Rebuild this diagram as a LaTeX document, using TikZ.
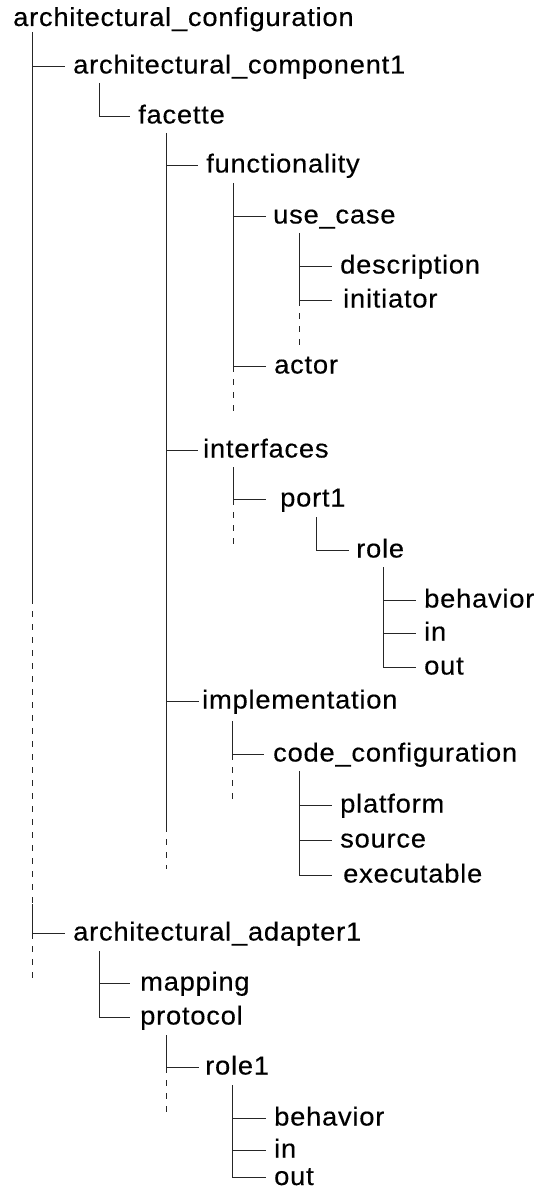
\documentclass[tikz,border=0pt]{standalone}
\usepackage{fontspec}
\newfontfamily\treefont{Liberation Sans}[FakeStretch=1.05,LetterSpace=3,FakeBold=0.35]
\newcommand\branchend[2]{\coordinate (#1-e) at ([xshift=-#2pt,yshift=7.5pt]#1.base west);}
\begin{document}
\begin{tikzpicture}[x=1pt,y=-1pt,
  lbl/.style={anchor=base west, inner sep=0pt, font=\treefont\fontsize{26}{30}\selectfont},
  edge/.style={line width=0.85pt, draw=black!85},
  gapline/.style={edge, dash pattern=on 6pt off 7pt}]
\useasboundingbox (0,0) rectangle (542,1190);

% labels
\node[lbl] (root)    at (13,26)      {architectural\_configuration};
\node[lbl] (comp1)   at (73,73.5)    {architectural\_component1};
\node[lbl] (facette) at (138,123.5)  {facette};
\node[lbl] (func)    at (206,172.5)  {functionality};
\node[lbl] (usecase) at (273,223.5)  {use\_case};
\node[lbl] (desc)    at (340,273.5)  {description};
\node[lbl] (init)    at (343,307.5)  {initiator};
\node[lbl] (actor)   at (274,373.5)  {actor};
\node[lbl] (intf)    at (203,457.5)  {interfaces};
\node[lbl] (port1)   at (280,506.5)  {port1};
\node[lbl] (role)    at (356,557.5)  {role};
\node[lbl] (beh)     at (424,607.5)  {behavior};
\node[lbl] (in)      at (424,640.5)  {in};
\node[lbl] (out)     at (424,674.5)  {out};
\node[lbl] (impl)    at (202,708.5)  {implementation};
\node[lbl] (cc)      at (273,761.5)  {code\_configuration};
\node[lbl] (plat)    at (340,812.5)  {platform};
\node[lbl] (src)     at (340,847.5)  {source};
\node[lbl] (exe)     at (343,882.5)  {executable};
\node[lbl] (adapt)   at (73,940.5)   {architectural\_adapter1};
\node[lbl] (map)     at (140,990.5)  {mapping};
\node[lbl] (proto)   at (140,1024.5) {protocol};
\node[lbl] (role1)   at (205,1074.5) {role1};
\node[lbl] (beh2)    at (274,1125.5) {behavior};
\node[lbl] (in2)     at (274,1157.5) {in};
\node[lbl] (out2)    at (274,1185)   {out};

% ends of the horizontal branches, just left of each label
\branchend{comp1}{8}  \branchend{facette}{8} \branchend{func}{8}
\branchend{usecase}{7} \branchend{desc}{8}  \branchend{init}{11}
\branchend{actor}{8}  \branchend{intf}{5}   \branchend{port1}{14}
\branchend{role}{7}   \branchend{beh}{8}    \branchend{in}{8}
\branchend{out}{8}    \branchend{impl}{3}   \branchend{cc}{9}
\branchend{plat}{8}   \branchend{src}{8}    \branchend{exe}{11}
\branchend{adapt}{8}  \branchend{map}{10}   \branchend{proto}{10}
\branchend{role1}{6}  \branchend{beh2}{8}   \branchend{in2}{8}
\branchend{out2}{8}

% trunk tops and break points
\coordinate (t0) at (32,32);   \coordinate (t0a) at (32,598);
\coordinate (t0b) at (32,904); \coordinate (t0c) at (32,979);
\coordinate (t1) at (99,83);
\coordinate (t2) at (166,133); \coordinate (t2a) at (166,826); \coordinate (t2b) at (166,869);
\coordinate (t3) at (233,183); \coordinate (t3b) at (233,412);
\coordinate (t4) at (299,233); \coordinate (t4b) at (299,345);
\coordinate (t5) at (233,467); \coordinate (t5b) at (233,545);
\coordinate (t6) at (316,517);
\coordinate (t7) at (383,567);
\coordinate (t8) at (232,721); \coordinate (t8b) at (232,800);
\coordinate (t9) at (299,771);
\coordinate (t10) at (99,951);
\coordinate (t11) at (166,1035); \coordinate (t11b) at (166,1112);
\coordinate (t12) at (232,1085);

% root
\draw[edge] (t0) -- (t0a);
\draw[gapline] (t0a) -- (t0b);
\draw[edge] (t0b) -- (t0 |- adapt-e);
\draw[gapline] (t0 |- adapt-e) -- (t0c);
\draw[edge] (t0 |- comp1-e) -- (comp1-e);
\draw[edge] (t0 |- adapt-e) -- (adapt-e);

% architectural_component1
\draw[edge] (t1) |- (facette-e);

% facette
\draw[edge] (t2) -- (t2a);
\draw[gapline] (t2a) -- (t2b);
\draw[edge] (t2 |- func-e) -- (func-e);
\draw[edge] (t2 |- intf-e) -- (intf-e);
\draw[edge] (t2 |- impl-e) -- (impl-e);

% functionality
\draw[edge] (t3) |- (actor-e);
\draw[gapline] (t3 |- actor-e) -- (t3b);
\draw[edge] (t3 |- usecase-e) -- (usecase-e);

% use_case
\draw[edge] (t4) |- (init-e);
\draw[gapline] (t4 |- init-e) -- (t4b);
\draw[edge] (t4 |- desc-e) -- (desc-e);

% interfaces
\draw[edge] (t5) |- (port1-e);
\draw[gapline] (t5 |- port1-e) -- (t5b);

% port1 and role
\draw[edge] (t6) |- (role-e);
\draw[edge] (t7) |- (out-e);
\draw[edge] (t7 |- beh-e) -- (beh-e);
\draw[edge] (t7 |- in-e) -- (in-e);

% implementation
\draw[edge] (t8) |- (cc-e);
\draw[gapline] (t8 |- cc-e) -- (t8b);

% code_configuration
\draw[edge] (t9) |- (exe-e);
\draw[edge] (t9 |- plat-e) -- (plat-e);
\draw[edge] (t9 |- src-e) -- (src-e);

% architectural_adapter1
\draw[edge] (t10) |- (proto-e);
\draw[edge] (t10 |- map-e) -- (map-e);

% protocol
\draw[edge] (t11) |- (role1-e);
\draw[gapline] (t11 |- role1-e) -- (t11b);

% role1
\draw[edge] (t12) |- (out2-e);
\draw[edge] (t12 |- beh2-e) -- (beh2-e);
\draw[edge] (t12 |- in2-e) -- (in2-e);
\end{tikzpicture}
\end{document}
